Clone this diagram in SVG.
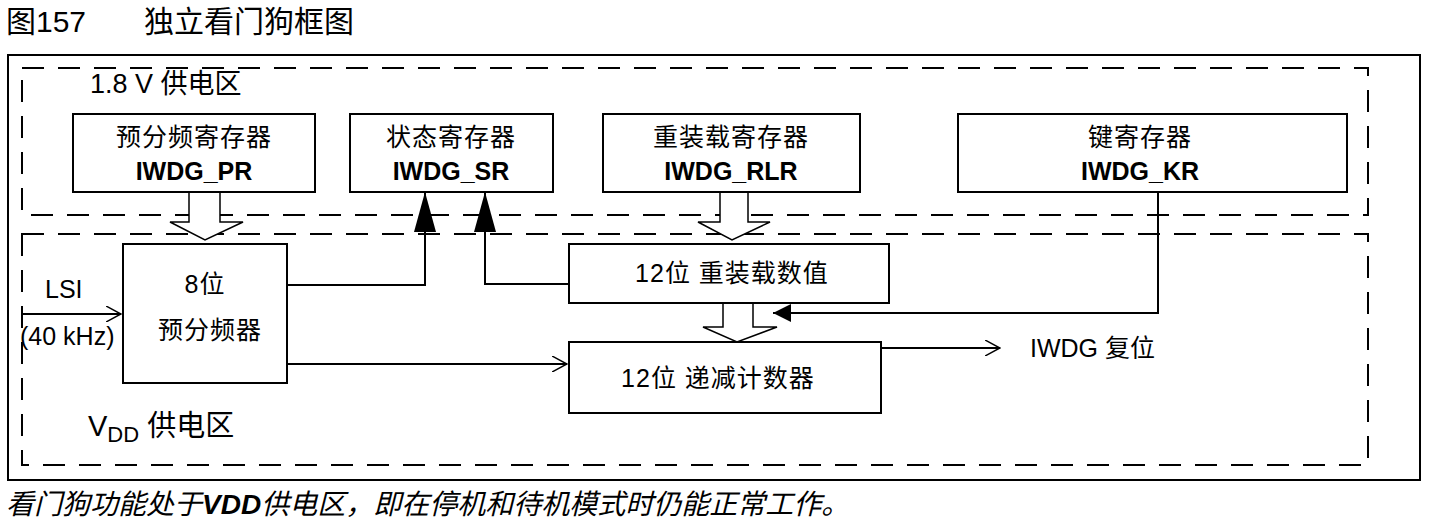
<svg xmlns="http://www.w3.org/2000/svg" width="1442" height="528" viewBox="0 0 1442 528">
<style>
text{font-family:"Liberation Sans","Noto Sans CJK SC",sans-serif;fill:#000}
.b{fill:#fff;stroke:#000;stroke-width:2}
.d{fill:none;stroke:#000;stroke-width:2;stroke-dasharray:22,14}
.l{fill:none;stroke:#000;stroke-width:2}
.h{fill:#fff;stroke:#000;stroke-width:1.5}
.t{font-size:25px;text-anchor:middle;letter-spacing:1px}
.bt{font-size:25px;font-weight:bold;text-anchor:middle}
</style>
<defs>
<marker id="o" viewBox="0 0 16 16" refX="15" refY="8" markerWidth="16" markerHeight="16" markerUnits="userSpaceOnUse" orient="auto"><path d="M0,0L15,8L0,16" fill="none" stroke="#000" stroke-width="1.5"/></marker>
<marker id="big" viewBox="0 0 40 22" refX="40" refY="11" markerWidth="40" markerHeight="22" markerUnits="userSpaceOnUse" orient="auto"><path d="M0,0L40,11L0,22z" fill="#000"/></marker>
<marker id="sm" viewBox="0 0 18 18" refX="18" refY="9" markerWidth="18" markerHeight="18" markerUnits="userSpaceOnUse" orient="auto"><path d="M0,0L18,9L0,18z" fill="#000"/></marker>
</defs>
<rect width="1442" height="528" fill="#fff"/>
<text x="6" y="32" font-size="30">图157</text>
<text x="144" y="32" font-size="30">独立看门狗框图</text>
<rect x="8" y="55" width="1412" height="425" class="l"/>
<rect x="22" y="68" width="1346" height="147" class="d"/>
<rect x="22" y="234" width="1346" height="231" class="d"/>
<text x="90" y="93" font-size="27">1.8 V 供电区</text>
<text x="88" y="436" font-size="29">V<tspan font-size="22" dy="6">DD</tspan><tspan dy="-6"> 供电区</tspan></text>
<g id="connectors">
<path class="l" d="M22,314H121" marker-end="url(#o)"/>
<path class="l" d="M287,285H425V192" marker-end="url(#big)"/>
<path class="l" d="M569,284H485V192" marker-end="url(#big)"/>
<path class="l" d="M287,364H567" marker-end="url(#o)"/>
<path class="l" d="M1158,192V313H773" marker-end="url(#sm)"/>
<path class="l" d="M881,348H1000" marker-end="url(#o)"/>
<path class="h" d="M189,192V222H170L205,240L243,222H220V192"/>
<path class="h" d="M720,192V222H698L732,240L770,222H748V192"/>
<path class="h" d="M723,303V327H703L737,342L777,327H753V303"/>
</g>
<g id="pr"><rect x="73" y="114" width="242" height="78" class="b"/><text x="194" y="146" class="t">预分频寄存器</text><text x="194" y="180" class="bt">IWDG_PR</text></g>
<g id="sr"><rect x="350" y="114" width="203" height="78" class="b"/><text x="451" y="146" class="t">状态寄存器</text><text x="451" y="180" class="bt">IWDG_SR</text></g>
<g id="rlr"><rect x="603" y="114" width="257" height="78" class="b"/><text x="731" y="146" class="t">重装载寄存器</text><text x="731" y="180" class="bt">IWDG_RLR</text></g>
<g id="kr"><rect x="958" y="114" width="389" height="78" class="b"/><text x="1140" y="146" class="t">键寄存器</text><text x="1140" y="180" class="bt">IWDG_KR</text></g>
<g id="presc"><rect x="123" y="244" width="164" height="139" class="b"/><text x="205" y="293" class="t">8位</text><text x="210" y="339" class="t">预分频器</text></g>
<g id="reload"><rect x="569" y="244" width="320" height="59" class="b"/><text x="732" y="282" class="t">12位 重装载数值</text></g>
<g id="counter"><rect x="569" y="342" width="312" height="71" class="b"/><text x="718" y="387" class="t">12位 递减计数器</text></g>
<text x="45" y="298" font-size="25">LSI</text>
<text x="20" y="345" font-size="25">(40 kHz)</text>
<text x="1030" y="357" font-size="25">IWDG 复位</text>
<text x="6" y="514" font-size="28" font-style="italic">看门狗功能处于<tspan font-weight="bold">VDD</tspan>供电区，即在停机和待机模式时仍能正常工作。</text>
</svg>
